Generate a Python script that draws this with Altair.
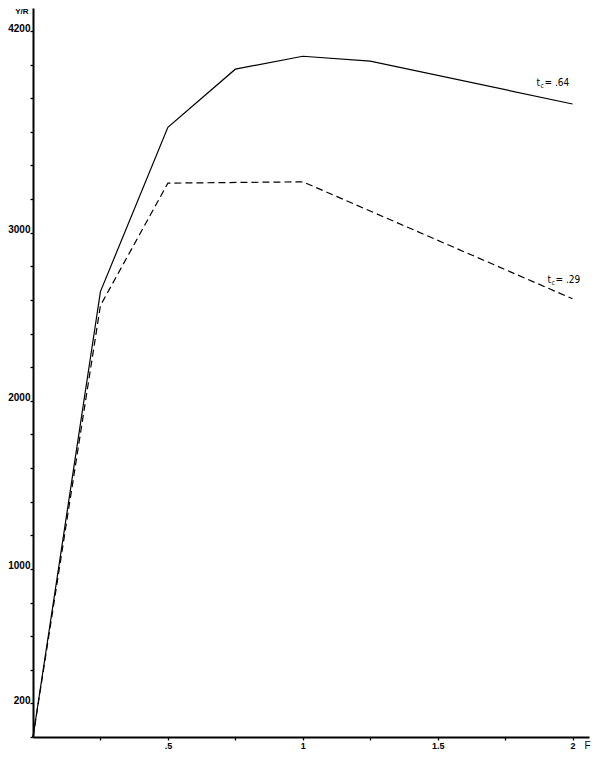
import altair as alt
import pandas as pd

# ---- data ----
F_solid = [0, 0.25, 0.5, 0.75, 1.0, 1.25, 2.0]
YR_solid = [0, 2650, 3627, 3973, 4050, 4021, 3766]
F_dashed = [0, 0.25, 0.5, 1.0, 2.0]
YR_dashed = [0, 2567, 3295, 3303, 2607]

label_solid = "= .64"
label_dashed = "= .29"

x_tick_values = [0.25, 0.5, 0.75, 1.0, 1.25, 1.5, 1.75, 2.0]
x_tick_labels = {0.5: ".5", 1.0: "1", 1.5: "1.5", 2.0: "2"}
y_tick_values = [0, 200, 400, 600, 800, 1000, 1200, 1400, 1600, 1800, 2000,
                 2200, 2400, 2600, 2800, 3000, 3200, 3400, 3600, 3800, 4000, 4200]
y_tick_labels = [200, 1000, 2000, 3000, 4200]

df_s = pd.DataFrame({"F": F_solid, "YR": YR_solid})
df_d = pd.DataFrame({"F": F_dashed, "YR": YR_dashed})
end_s = df_s.tail(1).assign(lab=label_solid)
end_d = df_d.tail(1).assign(lab=label_dashed)

x_expr = " : ".join(
    f"datum.value == {k} ? '{v}'" for k, v in x_tick_labels.items()
) + " : ''"
y_expr = "(" + " || ".join(f"datum.value == {v}" for v in y_tick_labels) + ") ? datum.label : ''"

LBL_FONT = "Liberation Sans"
ANN_FONT = "Liberation Sans Narrow, DejaVu Sans Condensed, sans-serif"

xscale = alt.Scale(domain=[0, 2.061], nice=False, zero=False)
yscale = alt.Scale(domain=[0, 4337], nice=False, zero=False)

x_axis = alt.Axis(
    values=x_tick_values, labelExpr=x_expr, grid=False,
    domainColor="black", domainWidth=2, tickColor="black", tickWidth=1.3, tickSize=3,
    labelFont=LBL_FONT, labelFontWeight="bold", labelFontSize=9, labelColor="black",
    labelPadding=1, labelFlush=False, labelOverlap=False,
    title="F", titleAngle=0, titleX=551, titleY=11, titleAlign="left",
    titleBaseline="alphabetic", titleFont=LBL_FONT, titleFontWeight="normal",
    titleFontSize=10, titleColor="black",
)
y_axis = alt.Axis(
    values=y_tick_values, labelExpr=y_expr, format="d", grid=False,
    domainColor="black", domainWidth=2, tickColor="black", tickWidth=1.3, tickSize=3,
    labelFont=LBL_FONT, labelFontWeight="bold", labelFontSize=10, labelColor="black",
    labelPadding=0, labelBaseline="alphabetic", labelFlush=False, labelOverlap=False,
    title="Y/R", titleAngle=0, titleX=-5, titleY=5, titleAlign="right",
    titleBaseline="alphabetic", titleFont=LBL_FONT, titleFontWeight="bold",
    titleFontSize=8, titleColor="black",
)

enc = dict(x=alt.X("F:Q", scale=xscale, axis=x_axis),
           y=alt.Y("YR:Q", scale=yscale, axis=y_axis))

solid = alt.Chart(df_s).mark_line(color="black", strokeWidth=1.2).encode(**enc)
dashed = alt.Chart(df_d).mark_line(color="black", strokeWidth=1.2, strokeDash=[7, 4]).encode(**enc)


def label_layers(df, dx, dy):
    t = alt.Chart(df).mark_text(text="t", align="left", baseline="alphabetic", dx=dx, dy=dy,
                                font=ANN_FONT, fontSize=10, color="black").encode(**enc)
    c = alt.Chart(df).mark_text(text="c", align="left", baseline="alphabetic", dx=dx + 4, dy=dy + 2,
                                font=ANN_FONT, fontSize=7, color="black").encode(**enc)
    rest = alt.Chart(df).mark_text(align="left", baseline="alphabetic", dx=dx + 8, dy=dy,
                                   font=ANN_FONT, fontSize=10, color="black").encode(text="lab:N", **enc)
    return [t, c, rest]


layers = [solid, dashed] + label_layers(end_s, -36, -18) + label_layers(end_d, -25, -16)

chart = alt.layer(*layers).properties(
    width=556, height=729,
    background="white",
    autosize=alt.AutoSizeParams(type="none"),
    padding={"left": 25, "top": 0, "right": 2, "bottom": 15},
).configure_view(stroke=None)

chart.save("out.html", embed_options={"renderer": "svg", "actions": False})
